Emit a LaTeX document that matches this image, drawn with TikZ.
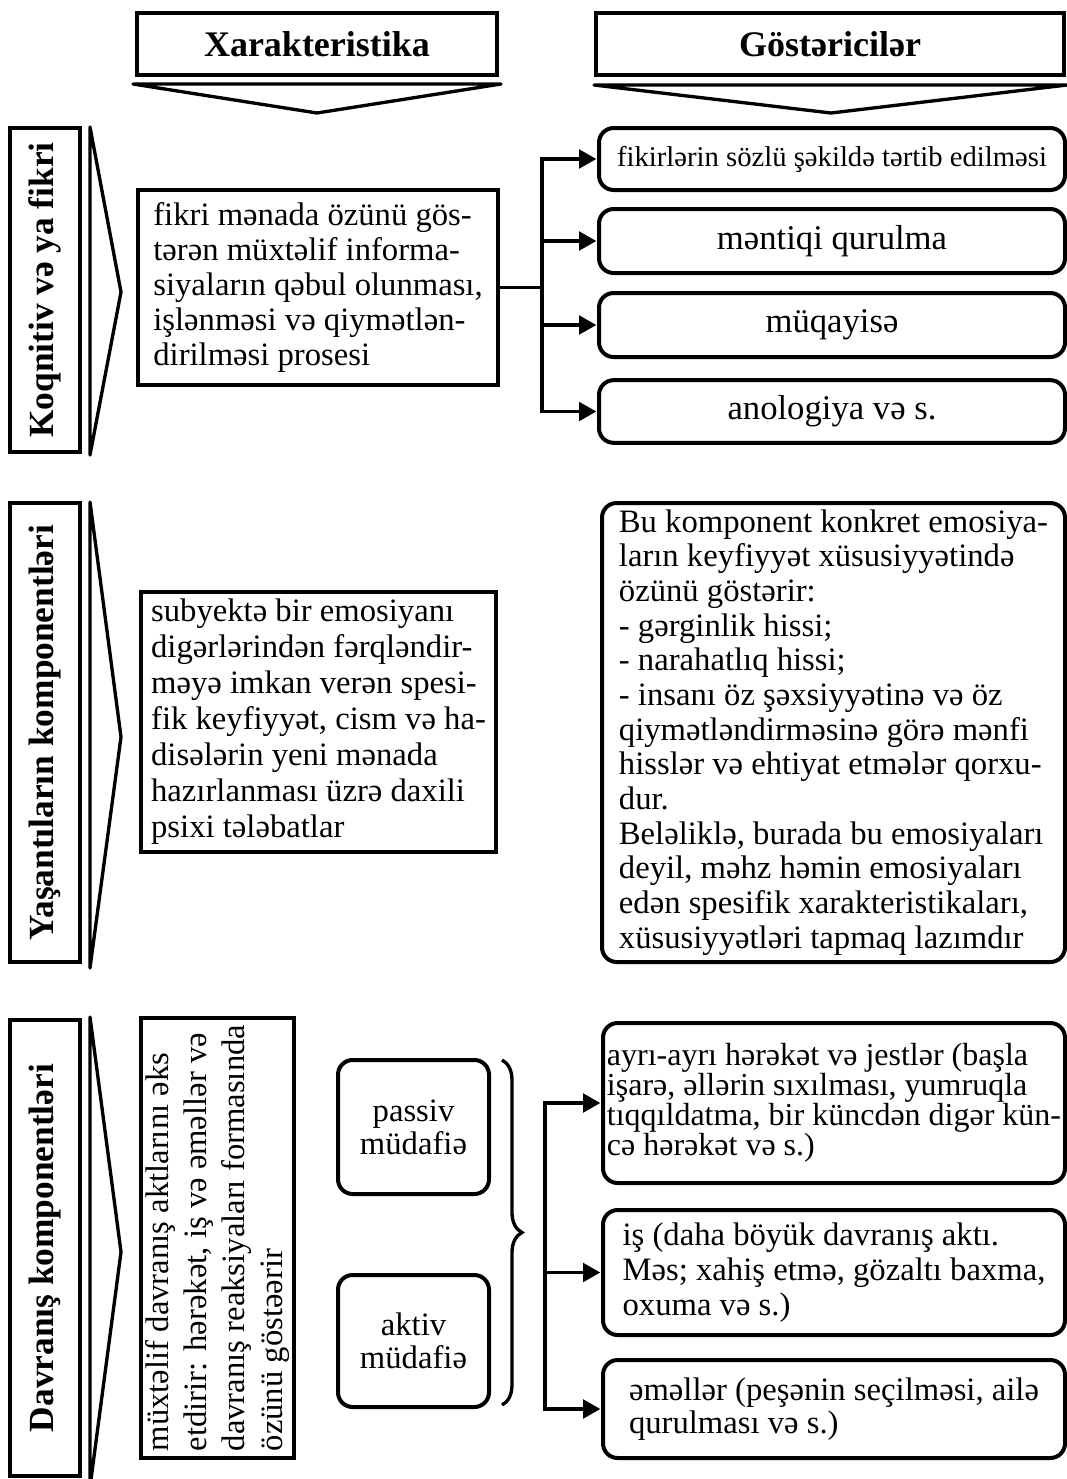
\documentclass[tikz,border=0pt]{standalone}
\usepackage{fontspec}
\setmainfont{Liberation Serif}
\usetikzlibrary{arrows.meta}
\usetikzlibrary{decorations.pathreplacing}
\tikzset{
  box_frame/.style = {draw=black, line width=3pt, inner sep=0pt, outer sep=0pt},
  head_box/.style = {box_frame, minimum width=#1, minimum height=46.5pt,
    font=\fontsize{27}{30}\selectfont\bfseries},% basliq
  side_label/.style = {box_frame, rotate=90, minimum width=#1, minimum height=52.5pt,
    font=\fontsize{26.5}{30}\selectfont\bfseries},% bolmenin adi
  char_box/.style = {box_frame, align=left,
    font=\fontsize{24.5}{26.5}\selectfont},% xarakteristika
  ind_box/.style = {box_frame, rounded corners=11pt, align=left,
    font=\fontsize{24.5}{26}\selectfont},% gostərici
  chevron/.style = {line width=2.5pt, line join=round},
  link/.style = {line width=2.5pt},
  link_arrow/.style = {link, -{Triangle[length=13pt,width=14pt]}, shorten >=2pt},
  brace_line/.style = {line width=2.5pt, decorate,
    decoration={brace, amplitude=15pt}}
}

\begin{document}
\begin{tikzpicture}[x=0.75pt, y=-0.75pt]
  \useasboundingbox (0,0) rectangle (1067,1479);
  % basliqlar
  \node [head_box=270pt] (hx) at (317,44) {Xarakteristika};
  \node [head_box=351pt] (hg) at (830,44) {Göstəricilər};
  \draw [chevron] (133,84) -- (501,84) -- (317,113) -- cycle;
  \draw [chevron] (594,85) -- (1067,85) -- (831,113) -- cycle;

  % koqnitiv komponent
  \node [side_label=243pt] (lab1) at (45,290) {Koqnitiv və ya fikri};
  \draw [chevron] (90,127) -- (121,292) -- (90,455) -- cycle;
  \node [char_box, minimum width=270pt, minimum height=146.25pt,
    font=\fontsize{24.5}{26.25}\selectfont] (box1) at (318,287.5)
    {fikri mənada özünü gös-\\
     tərən müxtəlif informa-\\
     siyaların qəbul olunması,\\
     işlənməsi və qiymətlən-\\
     dirilməsi prosesi};
  \coordinate (hub1) at (542,287.5);
  \node [ind_box, minimum width=349.5pt, minimum height=46.5pt,
    font=\fontsize{21.5}{24}\selectfont] (r1a) at (832,159)
    {fikirlərin sözlü şəkildə tərtib edilməsi};
  \node [ind_box, minimum width=349.5pt, minimum height=48pt,
    font=\fontsize{26}{28}\selectfont] (r1b) at (832,241) {məntiqi qurulma};
  \node [ind_box, minimum width=349.5pt, minimum height=48pt,
    font=\fontsize{26}{28}\selectfont] (r1c) at (832,325) {müqayisə};
  \node [ind_box, minimum width=349.5pt, minimum height=47pt,
    font=\fontsize{26}{28}\selectfont] (r1d) at (832,411.5) {anologiya və s.};
  \draw [link] (box1.east) -- (hub1);
  \foreach \b in {r1a,r1b,r1c,r1d}
    \draw [link_arrow] (hub1) |- (\b.west);

  % yasantilar
  \node [side_label=344.25pt] (lab2) at (45,732.5) {Yaşantıların komponentləri};
  \draw [chevron] (90,502) -- (121,737) -- (90,968) -- cycle;
  \node [char_box, minimum width=266.25pt, minimum height=195pt,
    font=\fontsize{24.5}{27}\selectfont] (box2) at (318.5,722)
    {subyektə bir emosiyanı\\
     digərlərindən fərqləndir-\\
     məyə imkan verən spesi-\\
     fik keyfiyyət, cism və ha-\\
     disələrin yeni mənada\\
     hazırlanması üzrə daxili\\
     psixi tələbatlar};
  \node [ind_box, minimum width=347.25pt, minimum height=344.25pt,
    font=\fontsize{24.5}{26}\selectfont] (r2) at (833.5,732.5)
    {Bu komponent konkret emosiya-\\
     ların keyfiyyət xüsusiyyətində\\
     özünü göstərir:\\
     - gərginlik hissi;\\
     - narahatlıq hissi;\\
     - insanı öz şəxsiyyətinə və öz\\
     qiymətləndirməsinə görə mənfi\\
     hisslər və ehtiyat etmələr qorxu-\\
     dur.\\
     Beləliklə, burada bu emosiyaları\\
     deyil, məhz həmin emosiyaları\\
     edən spesifik xarakteristikaları,\\
     xüsusiyyətləri tapmaq lazımdır};

  % davranis
  \node [side_label=342pt] (lab3) at (45,1248) {Davranış komponentləri};
  \draw [chevron] (90,1017) -- (121,1252) -- (90,1487) -- cycle;
  \node [char_box, rotate=90, minimum width=330pt, minimum height=114.75pt,
    font=\fontsize{24.5}{28.5}\selectfont] (box3) at (217.5,1238)
    {müxtəlif davranış aktlarını əks\\
     etdirir: hərəkət, iş və əməllər və\\
     davranış reaksiyaları formasında\\
     özünü göstəərir};
  \node [ind_box, align=center, minimum width=113.25pt, minimum height=100.5pt,
    font=\fontsize{24.5}{25}\selectfont] (passiv) at (413.5,1127) {passiv\\müdafiə};
  \node [ind_box, align=center, minimum width=113.25pt, minimum height=99pt,
    font=\fontsize{24.5}{25}\selectfont] (aktiv) at (413.5,1341) {aktiv\\müdafiə};
  \draw [brace_line] (502,1060) -- (502,1405);
  \coordinate (hub3) at (545,1272.5);
  \node [ind_box, minimum width=346.5pt, minimum height=120pt,
    font=\fontsize{24}{22.5}\selectfont] (r3a) at (834,1103)
    {ayrı-ayrı hərəkət və jestlər (başla\\
     işarə, əllərin sıxılması, yumruqla\\
     tıqqıldatma, bir küncdən digər kün-\\
     cə hərəkət və s.)};
  \node [ind_box, minimum width=346.5pt, minimum height=93.75pt,
    font=\fontsize{24.5}{26}\selectfont] (r3b) at (834,1272.5)
    {iş (daha böyük davranış aktı.\\
     Məs; xahiş etmə, gözaltı baxma,\\
     oxuma və s.)};
  \node [ind_box, minimum width=346.5pt, minimum height=73.5pt,
    font=\fontsize{24.5}{25}\selectfont] (r3c) at (834,1409)
    {əməllər (peşənin seçilməsi, ailə\\
     qurulması və s.)};
  \foreach \b in {r3a,r3b,r3c}
    \draw [link_arrow] (hub3) |- (\b.west);
\end{tikzpicture}
\end{document}
